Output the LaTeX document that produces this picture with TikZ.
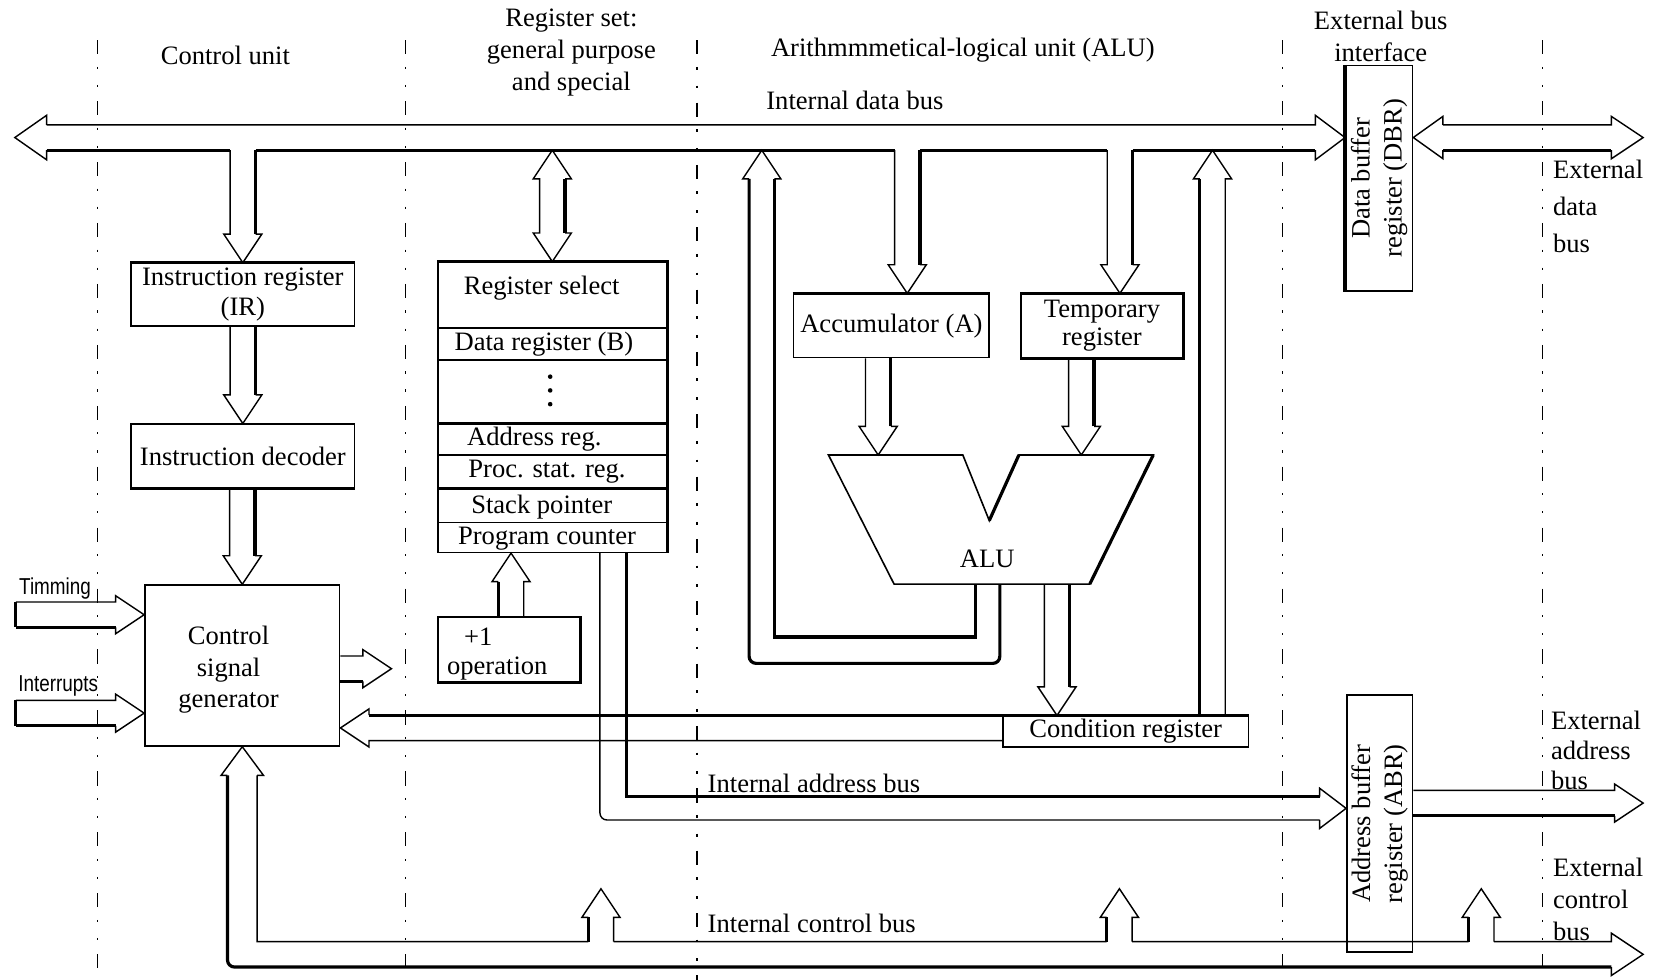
\documentclass[tikz,border=0pt]{standalone}
\usepackage{fontspec}
\setmainfont{Liberation Serif}
\newfontfamily\narrowsans[FakeStretch=0.82]{Liberation Sans}
\usetikzlibrary{calc,fit}

\tikzset{
  busthin/.style={line width=0.8pt},
  busthick/.style={line width=1.8pt},
  box/.style={draw,line width=0.9pt,inner sep=0pt},
  sepline/.style={line width=0.7pt,dash pattern=on 8pt off 7pt on 1.2pt off 9pt on 1.2pt off 8pt},
  sepbold/.style={line width=1.4pt,dash pattern=on 8pt off 7pt on 1.6pt off 9pt on 1.6pt off 8pt},
}

% hollow bus arrows: #1 = where the shaft starts, #2 = named tip
\newcommand{\fatdown}[2]{%
  \draw[busthin] ($(#2 |- #1)+(-12,0)$) -- ($(#2)+(-12,-27)$) -- ($(#2)+(-18,-27)$)
    -- (#2) -- ($(#2)+(18,-27)$) -- ($(#2)+(12,-27)$);
  \draw[busthick] ($(#2)+(12,-27)$) -- ($(#2 |- #1)+(12,0)$);}
\newcommand{\fatup}[2]{%
  \draw[busthin] ($(#2 |- #1)+(12,0)$) -- ($(#2)+(12,27)$) -- ($(#2)+(18,27)$)
    -- (#2) -- ($(#2)+(-18,27)$) -- ($(#2)+(-12,27)$);
  \draw[busthick] ($(#2)+(-12,27)$) -- ($(#2 |- #1)+(-12,0)$);}
\newcommand{\fatright}[2]{%
  \draw[busthin] ($(#2 -| #1)+(0,-12)$) -- ($(#2)+(-27,-12)$) -- ($(#2)+(-27,-18)$)
    -- (#2) -- ($(#2)+(-27,18)$) -- ($(#2)+(-27,12)$);
  \draw[busthick] ($(#2)+(-27,12)$) -- ($(#2 -| #1)+(0,12)$);}
\newcommand{\fatleft}[2]{%
  \draw[busthick] ($(#2 -| #1)+(0,-12)$) -- ($(#2)+(27,-12)$);
  \draw[busthin] ($(#2)+(27,-12)$) -- ($(#2)+(27,-18)$) -- (#2) -- ($(#2)+(27,18)$)
    -- ($(#2)+(27,12)$) -- ($(#2 -| #1)+(0,12)$);}

\begin{document}
\begin{tikzpicture}[x=0.021cm,y=-0.021cm,font=\fontsize{15}{18}\selectfont]
  \useasboundingbox (0,0) rectangle (1568,926);

  % section separators
  \foreach \x in {92,383,1212,1458}
    \draw[sepline] (\x,38) -- (\x,926);
  \draw[sepbold] (659,38) -- (659,926);

  % section titles
  \node (cuT) at (213,52) {Control unit};
  \node[align=center] (rsT) at (540,50) {Register set:\\general purpose\\and special};
  \node (aluT) at (910,47) {Arithmmmetical-logical unit (ALU)};
  \node[align=center] (ebT) at (1305,34) {External bus\\interface};
  \node (idbT) at (808,95) {Internal data bus};

  % control unit
  \node[box,fit={(124,249) (335,308)}] (ir) {};
  \node[align=center,font=\fontsize{15}{17}\selectfont] (irTxt) at (ir) {Instruction register\\(IR)};
  \node[box,fit={(124,401) (335,461)}] (idec) {};
  \node (idecTxt) at (idec) {Instruction decoder};
  \node[box,fit={(137,553) (321,705)}] (csg) {};
  \node[align=center] (csgTxt) at (216,633) {Control\\signal\\generator};
  \draw[busthick] (ir.north west) -- (ir.north east);
  \draw[busthick] (idec.south west) -- (idec.south east);

  % register set
  \node[box,fit={(414,248) (630,522)}] (regset) {};
  \foreach \y in {310,340,430,494}
    \draw[line width=0.9pt] (regset.west |- 0,\y) -- (regset.east |- 0,\y);
  \foreach \y in {400,462}
    \draw[busthick] (regset.west |- 0,\y) -- (regset.east |- 0,\y);
  \draw[busthick] (regset.north west) -- (regset.north east) -- (regset.south east);
  \node (rsSel) at (512,272) {Register select};
  \node (rsB) at (514,325) {Data register (B)};
  \foreach \y in {356,369,382}
    \fill (520,\y) circle (1.3pt);
  \node (rsAdr) at (505,415) {Address reg.};
  \node (rsPsr) at (517,446) {Proc. stat. reg.};
  \node (rsSp) at (512,479) {Stack pointer};
  \node (rsPc) at (517,509) {Program counter};
  \node[box,fit={(414,583) (548,644)}] (plusone) {};
  \draw[busthick] (plusone.north east) -- (plusone.south east) -- (plusone.south west);
  \node (inc1) at (452,602) {+1};
  \node (inc2) at (470,632) {operation};

  % ALU part
  \node[box,fit={(750,278) (935,338)}] (acc) {};
  \node (accTxt) at (acc) {Accumulator (A)};
  \node[box,fit={(965,278) (1118,338)}] (tmp) {};
  \node[align=center,font=\fontsize{15}{16}\selectfont] (tmpTxt) at (tmp) {Temporary\\register};
  \draw[busthick] (acc.north west) -- (acc.north east);
  \draw[busthick] (tmp.north west) -- (tmp.north east) -- (tmp.south east) -- (tmp.south west);
  \coordinate (aluInA) at (830,430);
  \coordinate (aluInB) at (1022,430);
  \draw[line width=0.9pt] (783,430) -- (910,430) -- (935,492) -- (963,430) -- (1090,430)
    -- (1030,552) -- (845,552) -- cycle;
  \draw[busthick] (935,492) -- (963,430);
  \draw[busthick] (1090,430) -- (1030,552);
  \node (alu) at (933,528) {ALU};
  \coordinate (aluOut) at (999,552);
  \coordinate (aluL1) at (922,552);
  \coordinate (aluL2) at (945,552);
  \node[box,fit={(948,677) (1180,706)}] (cond) {};
  \node (condTxt) at (cond) {Condition register};
  \draw[busthick] (cond.north west) -- (cond.north east);

  % bus interface
  \node[box,fit={(1272,62) (1335,275)}] (dbr) {};
  \node[rotate=90,align=center] (dbrTxt) at (dbr) {Data buffer\\register (DBR)};
  \draw[busthick] (dbr.north west) -- (dbr.south west);
  \node[box,fit={(1273,657) (1335,900)}] (abr) {};
  \node[rotate=90,align=center] (abrTxt) at (abr) {Address buffer\\register (ABR)};

  % internal data bus
  \coordinate (dbL) at (14,130);
  \coordinate (dbR) at (dbr.west |- dbL);
  \coordinate (dbB) at (0,142);
  \coordinate (accIn) at ($(acc.north)+(15,0)$);
  \coordinate (tmpIn) at ($(tmp.north)+(17,0)$);
  \draw[busthin] ($(dbL)+(30,-12)$) -- ++(0,-9) -- (dbL) -- ($(dbL)+(30,21)$) -- ++(0,-9);
  \draw[busthin] ($(dbL)+(30,-12)$) -- ($(dbR)+(-28,-12)$) -- ++(0,-9) -- (dbR)
    -- ($(dbR)+(-28,21)$) -- ++(0,-9);
  \draw[busthick] ($(dbL)+(30,12)$) -- ($(ir.north |- dbB)+(-12,0)$)
    ($(ir.north |- dbB)+(12,0)$) -- ($(accIn |- dbB)+(-12,0)$)
    ($(accIn |- dbB)+(12,0)$) -- ($(tmpIn |- dbB)+(-12,0)$)
    ($(tmpIn |- dbB)+(12,0)$) -- ($(dbR)+(-28,12)$);

  \fatdown{dbB}{ir.north}
  \fatdown{ir.south}{idec.north}
  \fatdown{idec.south}{csg.north}
  \fatdown{dbB}{accIn}
  \fatdown{dbB}{tmpIn}
  \fatdown{acc.south}{aluInA}
  \fatdown{tmp.south}{aluInB}
  \coordinate (condIn) at (cond.north -| aluOut);
  \fatdown{aluOut}{condIn}

  % register set <-> data bus
  \coordinate (rsUp) at (regset.north |- dbB);
  \draw[busthin] (rsUp) -- ($(rsUp)+(-18,27)$) -- ++(6,0) -- ($(regset.north)+(-12,-27)$)
    -- ++(-6,0) -- (regset.north) -- ($(regset.north)+(18,-27)$) -- ++(-6,0);
  \draw[busthick] ($(regset.north)+(12,-27)$) -- ($(rsUp)+(12,27)$);
  \draw[busthin] ($(rsUp)+(12,27)$) -- ++(6,0) -- (rsUp);

  % +1 operation -> program counter
  \coordinate (pcIn) at (regset.south -| 483,0);
  \fatup{plusone.north}{pcIn}

  % ALU result back to data bus
  \coordinate (loopTip) at (720,142);
  \draw[busthin] ($(loopTip)+(-12,27)$) -- ++(-6,0) -- (loopTip) -- ($(loopTip)+(18,27)$) -- ++(-6,0);
  \draw[busthick] ($(loopTip)+(12,27)$) |- ($(aluL1)+(0,50)$) -- (aluL1);
  \draw[busthick,rounded corners=4pt] ($(loopTip)+(-12,27)$) |- ($(aluL2)+(0,75)$) -- (aluL2);

  % condition register -> data bus and control
  \coordinate (flagTip) at (1146,142);
  \fatup{cond.north}{flagTip}
  \coordinate (csgFlag) at (csg.east |- 0,688);
  \fatleft{cond.west}{csgFlag}

  % control signals
  \coordinate (csgOut) at (370,632);
  \fatright{csg.east}{csgOut}
  \node[font=\narrowsans\fontsize{13}{15}\selectfont] (timT) at (52,556) {Timming};
  \coordinate (timStart) at (15,581);
  \coordinate (timTip) at (csg.west |- timStart);
  \fatright{timStart}{timTip}
  \draw[busthick] ($(timStart)+(0,-12)$) -- ($(timStart)+(0,12)$);
  \node[font=\narrowsans\fontsize{13}{15}\selectfont] (intT) at (55,648) {Interrupts};
  \coordinate (intStart) at (15,674);
  \coordinate (intTip) at (csg.west |- intStart);
  \fatright{intStart}{intTip}
  \draw[busthick] ($(intStart)+(0,-12)$) -- ($(intStart)+(0,12)$);

  % internal address bus
  \coordinate (pcA) at ($(regset.south)+(45,0)$);
  \coordinate (pcB) at ($(regset.south)+(70,0)$);
  \coordinate (abrIn) at (abr.west |- 0,764);
  \draw[busthick] (pcB) |- ($(abrIn)+(-25,-11)$);
  \draw[busthin,rounded corners=4pt] (pcA) |- ($(abrIn)+(-25,11)$);
  \draw[busthin] ($(abrIn)+(-25,-11)$) -- ++(0,-8) -- (abrIn) -- ($(abrIn)+(-25,19)$) -- ++(0,-8);
  \node[anchor=west] (iabT) at (663,740) {Internal address bus};

  % internal control bus
  \coordinate (ctlTip) at (1553,902);
  \coordinate (cbIn) at (0,890);
  \coordinate (ctlA) at (568,840);
  \coordinate (ctlB) at (1058,840);
  \coordinate (ctlC) at (1400,840);
  \draw[busthin] ($(csg.south)+(-14,27)$) -- ++(-6,0) -- (csg.south) -- ($(csg.south)+(20,27)$) -- ++(-6,0);
  \draw[busthin] ($(csg.south)+(14,27)$) |- ($(ctlA |- cbIn)+(-12,0)$)
    ($(ctlA |- cbIn)+(12,0)$) -- ($(ctlB |- cbIn)+(-12,0)$)
    ($(ctlB |- cbIn)+(12,0)$) -- ($(ctlC |- cbIn)+(-12,0)$)
    ($(ctlC |- cbIn)+(12,0)$) -- ($(ctlTip)+(-30,-12)$) -- ++(0,-8) -- (ctlTip)
    -- ($(ctlTip)+(-30,20)$) -- ++(0,-8);
  \draw[busthick,rounded corners=4pt] ($(csg.south)+(-14,27)$) |- ($(ctlTip)+(-30,12)$);
  \fatup{cbIn}{ctlA}
  \fatup{cbIn}{ctlB}
  \fatup{cbIn}{ctlC}
  \node[anchor=west] (icbT) at (663,873) {Internal control bus};

  % external buses
  \coordinate (xdL) at (dbr.east |- dbL);
  \coordinate (xdR) at (1553,130);
  \draw[busthin] ($(xdL)+(28,-12)$) -- ++(0,-8) -- (xdL) -- ($(xdL)+(28,20)$) -- ++(0,-8);
  \draw[busthin] ($(xdL)+(28,-12)$) -- ($(xdR)+(-30,-12)$) -- ++(0,-8) -- (xdR)
    -- ($(xdR)+(-30,20)$) -- ++(0,-8);
  \draw[busthick] ($(xdL)+(28,12)$) -- ($(xdR)+(-30,12)$);
  \coordinate (xaL) at (abr.east |- 0,759);
  \coordinate (xaR) at (1553,759);
  \fatright{xaL}{xaR}
  \node[anchor=west,align=left,font=\fontsize{15}{21}\selectfont] (xdT) at (1462,195) {External\\data\\bus};
  \node[anchor=west,align=left,font=\fontsize{15}{17}\selectfont] (xaT) at (1460,709) {External\\address\\bus};
  \node[anchor=west,align=left,font=\fontsize{15}{18}\selectfont] (xcT) at (1462,850) {External\\control\\bus};
\end{tikzpicture}
\end{document}
